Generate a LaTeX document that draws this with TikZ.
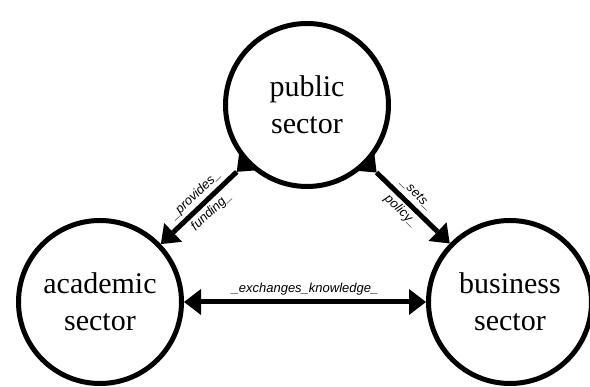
\documentclass[tikz,border=0pt]{standalone}
\usepackage{fontspec}
\setmainfont{Liberation Serif}
\setsansfont{Liberation Sans}
\usetikzlibrary{arrows.meta}

\begin{document}
\begin{tikzpicture}[x=1pt,y=1pt,
  sector/.style={circle,draw,line width=5pt,minimum size=163pt,inner sep=0pt,align=center,font=\fontsize{30}{37}\selectfont},
  link/.style={line width=5pt,{Triangle[width=26pt,length=16pt,line width=0pt,reversed]}-{Triangle[width=26pt,length=17pt,line width=0pt]},shorten <=-3pt},
  both/.style={line width=5pt,{Triangle[width=26pt,length=17pt,line width=0pt]}-{Triangle[width=26pt,length=17pt,line width=0pt]}},
  lbl/.style={font=\sffamily\itshape\fontsize{13}{23}\selectfont,align=center}]
\useasboundingbox (0,0) rectangle (590,387);
\node[sector] (public) at (307,282) {public\\sector};
\node[sector] (academic) at (100,85) {academic\\sector};
\node[sector] (business) at (510,85) {business\\sector};
% the three relations
\draw[link] (public) -- node[lbl,sloped] {\_provides\_\\funding\_} (academic);
\draw[link] (public) -- node[lbl,sloped] {\_sets\_\\policy\_} (business);
\draw[both] (academic) -- node[lbl,above=1pt] {\_exchanges\_knowledge\_} (business);
\end{tikzpicture}
\end{document}
